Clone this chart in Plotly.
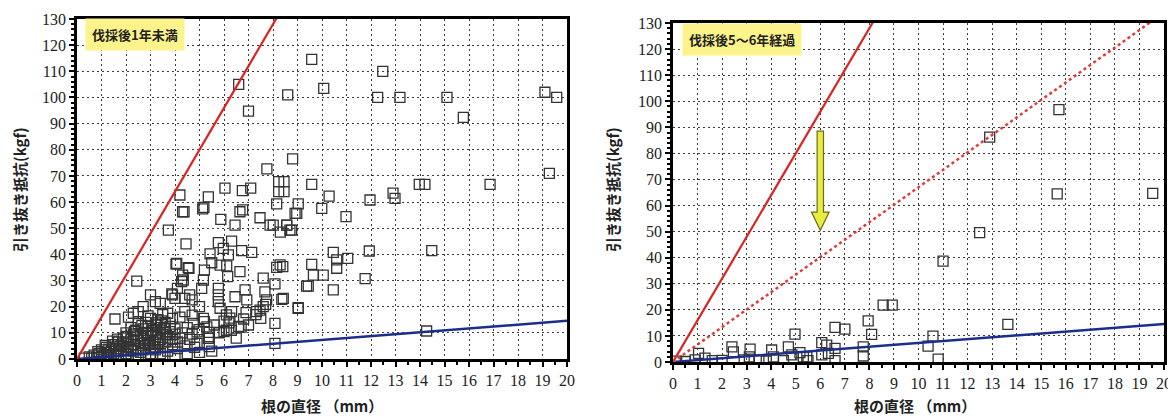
import plotly.graph_objects as go

# ---------------- data ----------------
# Left panel: 伐採後1年未満 (diameter mm, pull-out resistance kgf)
left_x = [
    6.6, 7.0, 8.6, 7.75, 8.8, 8.23, 8.23, 4.2, 5.36, 6.04, 6.75, 7.09, 5.18,
    9.58, 12.48, 10.07, 12.27, 13.18, 15.1, 15.77, 19.1, 19.58,
    8.45, 8.45, 9.58, 10.29, 11.96, 12.9, 12.98, 13.97, 14.2, 16.86, 19.28, 9.03, 9.99,
    8.9, 8.56, 8.69, 10.98, 10.46, 10.6, 10.6, 11.05, 11.93, 14.48, 9.58, 9.65, 10.05,
    9.44, 10.46, 11.76, 8.4, 8.42, 9.03, 14.27, 8.3,
    4.37, 5.13, 5.87, 6.45, 6.65, 6.76, 7.47, 7.88, 8.01, 8.15, 8.97, 8.56, 8.76,
    3.73, 4.45, 5.77, 6.31, 5.97, 6.18, 5.43, 6.72, 7.13, 4.04, 4.54, 5.5, 5.84, 6.11,
    5.2, 6.65, 4.34, 5.16, 5.09, 5.77, 5.77, 5.77, 6.15, 7.6, 8.15, 8.29, 8.08, 9.37,
    6.86, 6.45, 6.93, 7.67, 7.74, 7.6, 7.33, 8.36, 9.03, 8.08, 8.08,
    1.55, 2.44, 4.31, 4.07, 4.27, 4.31, 4.57, 3.87, 4.0,
    5.84, 6.31, 6.24, 6.9, 7.47, 7.7, 5.4, 5.8, 6.1, 6.2, 6.1, 6.7, 6.8, 4.75, 5.16, 4.98, 5.36,
    0.3, 0.5, 0.6, 0.7, 0.8, 0.9, 1.0, 1.0, 1.1, 1.2, 1.2, 1.3, 1.4, 1.4, 1.5, 1.5, 1.6, 1.6, 1.7, 1.7,
    1.8, 1.8, 1.9, 1.9, 2.0, 2.0, 2.0, 2.1, 2.1, 2.2, 2.2, 2.3, 2.3, 2.3, 2.4, 2.4, 2.5, 2.5, 2.5,
    2.6, 2.6, 2.6, 2.7, 2.7, 2.7, 2.8, 2.8, 2.8, 2.9, 2.9, 2.9, 3.0, 3.0, 3.0, 3.0,
    3.1, 3.1, 3.2, 3.2, 3.2, 3.3, 3.3, 3.3, 3.4, 3.4, 3.4, 3.5, 3.5, 3.6, 3.6, 3.6, 3.7, 3.7,
    3.8, 3.8, 3.9, 3.9, 4.0, 4.0, 4.1, 4.1, 4.2, 4.3, 4.4, 4.5, 4.6, 4.7, 4.8, 4.9,
    2.3, 2.5, 2.7, 3.0, 3.2, 3.4, 3.7, 3.9, 4.1, 4.4, 4.6, 4.7, 4.4, 4.7, 5.0, 5.2, 5.3,
    4.9, 5.4, 5.4, 3.9, 4.2, 3.5, 2.9, 2.1,
    3.0, 3.5, 4.0, 4.5, 5.0, 5.5, 2.5, 6.0, 6.3, 6.6, 6.0, 5.8, 6.5, 7.0, 7.3, 7.5, 5.6,
    1.0, 1.3, 1.6, 1.9, 2.2, 2.45, 2.75, 3.05, 3.35, 3.65, 2.0, 2.35, 2.65, 2.95, 3.25, 3.55,
    1.15, 1.45, 1.75, 2.05, 2.85, 3.15, 3.45, 0.85, 1.25, 1.65,
]
left_y = [
    105, 94.8, 101, 72.7, 76.5, 67.8, 64, 62.7, 62, 65.3, 64.4, 65.3, 58,
    114.6, 110, 103.5, 100, 100, 100, 92.4, 102, 100,
    67.8, 64, 66.8, 62.3, 60.8, 63.4, 61.4, 66.8, 66.8, 66.8, 71, 59.3, 57.6,
    55.7, 51.2, 49.3, 54.4, 40.8, 37.9, 34.7, 38.5, 41.3, 41.4, 36.2, 32.1, 32.1,
    27.9, 26.4, 30.7, 35.3, 23.2, 19.4, 10.7, 48.5,
    56.3, 57.4, 53.4, 51.2, 56.3, 57, 54, 51.2, 51.2, 59.3, 55.7, 51.2, 49.3,
    49.3, 44, 44.5, 45.1, 42.3, 39.8, 40.2, 41.4, 40.8, 36.3, 34.9, 36.8, 35.9, 35.6,
    34, 33.4, 30.2, 30.2, 27, 27, 24.5, 21.9, 31.5, 30.9, 35, 36, 28.7, 27.9,
    26.4, 23.8, 22.6, 25.7, 22.6, 20, 18.1, 22.8, 19.6, 13.6, 6,
    15.3, 29.8, 56.3, 36.6, 29.6, 32.1, 34.7, 24.9, 23.2,
    19.4, 18.1, 15.6, 17.7, 18.7, 20.9, 10.2, 10.2, 11, 13.8, 16.9, 12.2, 15.3, 13.6, 15.5, 11.2, 7.9,
    0.3, 0.8, 0.3, 1.5, 0.5, 2.0, 1.0, 3.5, 0.5, 2.5, 4.5, 1.5, 3.0, 0.8, 5.5, 2.0, 4.0, 1.0, 6.5, 3.0,
    1.5, 5.0, 8.0, 3.5, 2.0, 6.5, 10.0, 4.5, 1.0, 7.5, 12.0, 3.0, 9.5, 5.5, 1.5, 11.0, 7.0, 4.0, 13.5,
    2.5, 9.0, 6.0, 11.5, 3.5, 8.0, 14.0, 5.0, 1.5, 10.0, 7.0, 12.5, 4.0, 9.0, 2.0, 15.5,
    6.5, 11.0, 13.0, 8.5, 3.5, 10.0, 5.5, 15.0, 7.5, 12.0, 2.0, 9.5, 4.5, 11.5, 6.5, 14.0, 8.0, 3.0,
    10.5, 12.5, 5.5, 7.5, 9.5, 11.5, 4.0, 6.5, 8.0, 10.0, 5.0, 12.0, 7.5, 9.5, 4.5, 6.0,
    17.5, 18.1, 20.0, 24.5, 21.9, 21.3, 17.5, 24.5, 27.0, 23.2, 24.5, 22.6, 18.1, 16.8, 20.0, 14.3, 12.3,
    10.4, 7.9, 4.7, 15.5, 16.0, 17.0, 16.5, 16.0,
    0.5, 1.0, 1.5, 2.0, 2.5, 3.0, 0.3, 10.5, 11.0, 12.5, 14.5, 10.0, 8.0, 13.0, 17.0, 15.5, 13.0,
    2.2, 3.8, 2.8, 5.8, 4.2, 8.8, 6.2, 10.8, 7.2, 9.2, 8.6, 10.6, 12.8, 5.6, 13.8, 11.8,
    5.2, 6.8, 4.8, 3.2, 9.8, 4.6, 14.6, 2.8, 1.8, 7.6,
]

# Right panel: 伐採後5～6年経過
right_x = [12.9, 15.72, 15.65, 19.54, 12.49, 11.0, 8.56, 8.93, 13.64, 10.59, 10.39, 10.8,
           4.97, 6.6, 7.0, 7.95, 8.09, 1.04, 2.4, 2.46, 3.14, 3.11, 4.02, 4.09,
           4.7, 4.84, 5.17, 5.31, 5.45, 6.06, 6.26, 6.6, 6.06, 6.33, 7.75, 7.75,
           0.9, 0.15, 1.6, 2.0, 2.9, 3.5, 3.8, 4.5, 5.5, 6.6, 1.3, 0.5]
right_y = [86.2, 96.8, 64.5, 64.7, 49.6, 38.7, 21.8, 21.8, 14.4, 9.9, 6.1, 1.1,
           10.7, 13.3, 12.6, 15.8, 10.6, 3.3, 5.8, 3.9, 4.9, 2.0, 4.6, 2.0,
           5.8, 2.7, 3.6, 2.0, 2.0, 7.4, 6.5, 5.2, 2.7, 3.3, 5.8, 2.3,
           0.8, 0.3, 0.5, 0.6, 0.8, 0.8, 0.3, 0.5, 0.5, 0.5, 1.5, 0.2]

x_ticks = list(range(0, 21))
y_ticks = list(range(0, 131, 10))
RED_SLOPE = 16.0
RED_DOTTED_SLOPE = 6.7
BLUE_SLOPE = 0.73
line_x = [0, 20]

# arrow (right panel): x, shaft top, head base, tip
ARROW_X = 6.0
ARROW_TOP = 88.5
ARROW_HEAD_BASE = 57.5
ARROW_TIP = 50.5
ARROW_SHAFT_HW = 0.13
ARROW_HEAD_HW = 0.36

LABEL_LEFT = "伐採後1年未満"
LABEL_RIGHT = "伐採後5～6年経過"
X_TITLE = "根の直径 （mm）"
Y_TITLE = "引き抜き抵抗(kgf)"

# ---------------- figure ----------------
# page has an 8px body margin, so the figure is slightly smaller than the window
OFF = 8
W, H = 1168, 408
fig = go.Figure()

marker = dict(symbol="square-open", size=10, color="#333333", line=dict(width=1.3, color="#333333"))

for xa, ya, xs, ys, dotted in [("x", "y", left_x, left_y, False), ("x2", "y2", right_x, right_y, True)]:
    fig.add_trace(go.Scatter(x=xs, y=ys, mode="markers", marker=marker, xaxis=xa, yaxis=ya,
                             showlegend=False, hoverinfo="skip"))
    fig.add_trace(go.Scatter(x=line_x, y=[v * BLUE_SLOPE for v in line_x], mode="lines",
                             line=dict(color="#1c2e8c", width=2.5), xaxis=xa, yaxis=ya, showlegend=False))
    fig.add_trace(go.Scatter(x=line_x, y=[v * RED_SLOPE for v in line_x], mode="lines",
                             line=dict(color="#d92424", width=2.2), xaxis=xa, yaxis=ya, showlegend=False))
    if dotted:
        fig.add_trace(go.Scatter(x=line_x, y=[v * RED_DOTTED_SLOPE for v in line_x], mode="lines",
                                 line=dict(color="#e03a3a", width=2.5, dash="dot"), xaxis=xa, yaxis=ya,
                                 showlegend=False))

# arrow shape
shaft = (f"M {ARROW_X-ARROW_SHAFT_HW},{ARROW_TOP} L {ARROW_X+ARROW_SHAFT_HW},{ARROW_TOP} "
         f"L {ARROW_X+ARROW_SHAFT_HW},{ARROW_HEAD_BASE} L {ARROW_X+ARROW_HEAD_HW},{ARROW_HEAD_BASE} "
         f"L {ARROW_X},{ARROW_TIP} L {ARROW_X-ARROW_HEAD_HW},{ARROW_HEAD_BASE} "
         f"L {ARROW_X-ARROW_SHAFT_HW},{ARROW_HEAD_BASE} Z")
fig.add_shape(type="path", path=shaft, xref="x2", yref="y2", fillcolor="#e8ec3c",
              line=dict(color="#6b6b20", width=1.2))


def px_x(p):
    return (p - OFF) / W


def px_y(p):
    return 1 - (p - OFF) / H


axis_common = dict(
    showline=True, linecolor="black", linewidth=2.5, mirror=True, automargin=False,
    showgrid=True, gridcolor="#3c3c3c", gridwidth=1.2, griddash="2px,3px",
    zeroline=False, ticks="outside", ticklen=5, tickwidth=1.5, tickcolor="black",
    tickfont=dict(family="Liberation Serif, Times New Roman, serif", size=16, color="#222222"),
)
x_minor = dict(dtick=0.5, ticks="outside", ticklen=3, tickcolor="black", showgrid=False)
y_minor = dict(dtick=2, ticks="outside", ticklen=3, tickcolor="black", showgrid=False)

fig.update_layout(
    width=W, height=H, margin=dict(l=0, r=0, t=0, b=0, autoexpand=False),
    paper_bgcolor="white", plot_bgcolor="white", showlegend=False,
    xaxis=dict(axis_common, domain=[px_x(77), px_x(567)], range=[0, 20], tickvals=x_ticks, minor=x_minor),
    yaxis=dict(axis_common, domain=[px_y(359), px_y(19)], range=[0, 130], tickvals=y_ticks, minor=y_minor),
    xaxis2=dict(axis_common, domain=[px_x(673), px_x(1164)], range=[0, 20], tickvals=x_ticks, anchor="y2",
                minor=x_minor),
    yaxis2=dict(axis_common, domain=[px_y(362), px_y(23)], range=[0, 130], tickvals=y_ticks, anchor="x2",
                minor=y_minor),
)

title_font = dict(family="Noto Sans CJK JP", size=15, color="#222222", weight="bold")
label_font = dict(family="Noto Sans CJK JP", size=13, color="#222222", weight="bold")
common_ann = dict(xref="paper", yref="paper", showarrow=False, xanchor="center", yanchor="middle")
annotations = [
    dict(common_ann, text=X_TITLE, x=px_x(322), y=px_y(405), font=title_font),
    dict(common_ann, text=X_TITLE, x=px_x(915), y=px_y(405), font=title_font),
    dict(common_ann, text=Y_TITLE, x=px_x(19), y=px_y(190), font=title_font, textangle=-90),
    dict(common_ann, text=Y_TITLE, x=px_x(612), y=px_y(190), font=title_font, textangle=-90),
    dict(common_ann, text=LABEL_LEFT, x=px_x(135), y=px_y(35), font=label_font, bgcolor="#fcf48a", borderpad=6),
    dict(common_ann, text=LABEL_RIGHT, x=px_x(742), y=px_y(40), font=label_font, bgcolor="#fcf48a", borderpad=6),
]
fig.update_layout(annotations=annotations)

fig.write_html("out.html")
